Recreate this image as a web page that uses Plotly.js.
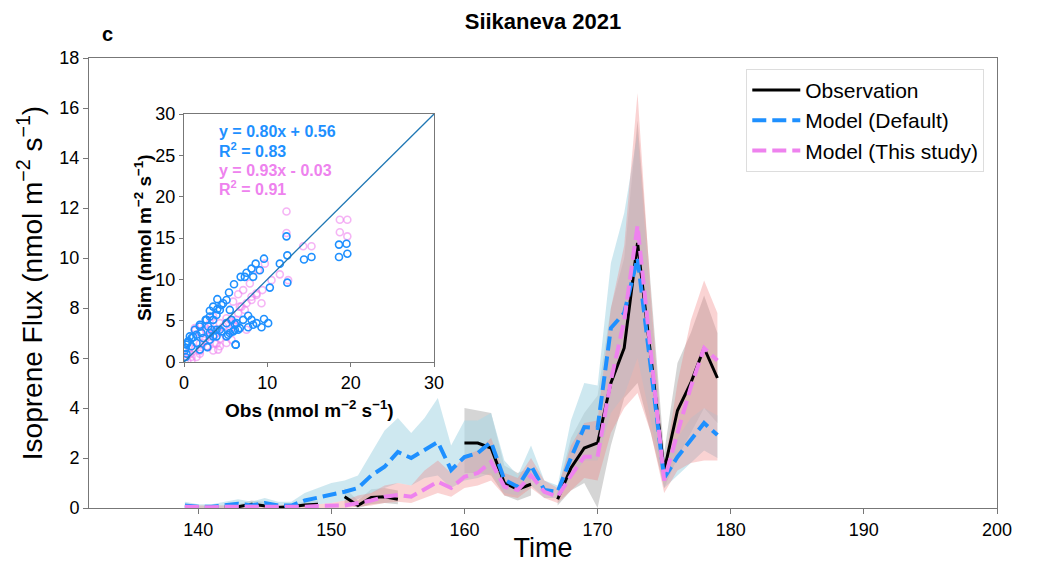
<!DOCTYPE html>
<html><head><meta charset="utf-8">
<script src="https://cdn.plot.ly/plotly-3.0.1.min.js"></script>
<style>body{margin:0;background:#fff}#chart{width:1038px;height:563px}</style>
</head><body><div id="chart"></div>
<script>
const days = [139,140,141,142,143,144,145,146,147,148,149,150,151,152,153,154,155,156,157,158,159,160,161,162,163,164,165,166,167,168,169,170,171,172,173,174,175,176,177,178,179];
const obs    = [null,null,null,0.05,0.05,0.15,0.1,0.02,0.05,0.12,0.15,null,0.45,0.1,0.42,0.45,0.35,null,null,null,null,2.6,2.6,2.4,1.0,0.75,0.95,null,0.35,1.6,2.4,2.6,5.0,6.4,10.6,6.0,1.5,3.9,5.0,6.4,5.2];
const obsLo  = [null,null,null,0,0,0.05,0.02,0,0,0.03,0.05,null,0.2,0.0,0.15,0.2,0.15,null,null,null,null,1.4,1.4,1.3,0.5,0.3,0.5,null,0.1,0.7,1.0,0.0,2.5,4.4,5.0,3.0,0.8,2.0,3.0,4.0,3.4];
const obsHi  = [null,null,null,0.15,0.15,0.3,0.25,0.1,0.15,0.25,0.3,null,0.8,0.3,0.75,0.8,0.7,null,null,null,null,4.0,3.9,3.8,1.7,1.4,1.6,null,0.7,2.8,3.8,4.5,8.0,10.0,15.5,9.0,2.2,5.8,7.0,8.5,7.0];
const dflt   = [0.1,0.05,0.05,0.1,0.17,0.1,0.2,0.1,0.1,0.3,0.42,0.5,0.65,0.8,1.3,1.65,2.24,2.0,2.3,2.64,1.52,2.04,2.2,2.64,1.12,0.85,1.7,0.72,0.65,2.0,3.24,3.2,7.2,7.8,10.0,5.6,1.2,2.04,2.72,3.4,2.92];
const dfltLo = [0,0,0,0,0.05,0,0.05,0,0,0.1,0.15,0.2,0.3,0.35,0.6,0.8,1.0,0.9,1.2,1.3,0.8,1.1,1.2,1.4,0.6,0.5,0.9,0.4,0.4,1.2,1.9,1.9,3.8,4.5,6.0,3.5,0.8,1.3,1.8,2.3,2.0];
const dfltHi = [0.25,0.15,0.15,0.25,0.35,0.25,0.4,0.25,0.25,0.6,0.8,1.0,1.1,1.3,2.2,3.1,3.6,3.0,3.6,4.4,2.5,3.5,3.5,3.8,1.9,1.3,2.5,1.1,0.9,3.5,5.0,4.9,9.8,11.8,15.0,8.0,1.7,2.8,3.6,4.0,3.7];
const study   = [0.05,0.03,0.03,0.05,0.05,0.05,0.05,0.03,0.05,0.05,0.08,0.1,0.1,0.2,0.3,0.45,0.52,0.45,0.75,1.05,0.8,1.25,1.4,1.85,0.85,0.72,1.3,0.65,0.45,1.3,2.05,2.05,5.1,7.5,11.3,6.2,1.1,3.0,4.84,6.4,5.9];
const studyLo = [0,0,0,0,0,0,0,0,0,0,0,0,0,0.05,0.1,0.2,0.25,0.2,0.4,0.6,0.45,0.8,0.9,1.1,0.5,0.4,0.8,0.4,0.2,0.7,1.2,1.1,3.0,4.0,4.6,3.0,0.6,1.5,1.8,1.9,1.9];
const studyHi = [0.1,0.1,0.1,0.1,0.12,0.12,0.12,0.1,0.12,0.12,0.15,0.2,0.3,0.5,0.6,0.9,1.0,0.9,1.5,1.9,1.4,2.1,2.3,2.8,1.4,1.2,2.0,1.1,0.8,2.5,3.4,3.5,8.0,10.5,16.6,8.5,1.6,5.0,7.5,9.1,7.8];

// inset scatter (obs vs sim)
const scObsD = [9.6,8.6,8.1,7.5,6.8,7.3,6.0,5.4,4.7,4.0,3.5,3.1,2.6,1.9,1.3,0.7,0.4,0.2,0.3,5.1,5.7,6.1,6.2,7.1,7.7,8.1,8.7,9.3,9.6,10.1,7.7,8.3,10.3,11.5,12.3,12.4,12.4,14.4,15.3,18.6,19.5,18.6,19.6,5.3,3.9,3.1,2.3,1.5,0.9,1.9,2.8,3.5,4.5,6.7,6.3,5.5,8.3,9.1,4.0,3.1,
                0.3,0.9,2.1,2.9,3.5,4.3,4.5,5.1,3.9,2.7,1.9,1.5,3.3,4.3,5.1,5.9,6.2,5.5,6.5,6.1,3.9,3.1,0.1,0.5,0.2,1.1];
const scSimD = [12.5,11.9,11.3,10.8,10.3,10.3,9.4,8.4,7.1,7.6,6.7,6.2,5.1,4.5,3.9,3.1,2.3,1.7,1.0,4.7,5.1,3.9,2.1,5.1,5.6,5.1,4.7,4.2,5.2,4.7,4.2,4.5,9.0,11.9,15.2,12.9,9.6,12.4,12.7,14.2,14.3,12.7,13.1,3.3,3.9,3.5,2.9,2.3,1.9,1.5,1.8,3.1,3.7,4.1,4.7,6.3,10.3,11.1,6.4,5.5,
                2.1,2.9,3.5,4.3,5.1,6.3,6.9,7.5,5.7,5.1,4.3,3.3,3.9,3.9,3.1,3.7,2.1,3.5,3.9,4.6,3.1,2.7,1.4,2.5,0.6,3.0];
const scObsS = [12.3,12.3,18.7,19.6,18.7,19.6,14.3,15.3,12.5,11.5,10.5,9.7,8.9,9.4,8.7,9.3,7.9,7.1,6.5,5.9,6.7,7.3,7.5,5.9,5.1,4.3,3.7,3.1,3.7,4.1,2.7,1.9,1.5,0.9,0.4,1.3,1.9,2.5,3.1,3.5,5.1,5.7,0.5,0.7,2.3,8.1,
                0.1,0.7,1.3,1.3,1.9,2.5,2.9,3.5,3.9,4.3,4.1,4.7,5.1,5.7,6.3,6.5,6.9,7.5,8.1,8.7,2.1,2.7,3.1,3.7,4.3,5.1,5.5,1.9,0.9];
const scSimS = [18.2,15.6,17.2,17.2,15.7,15.2,14.0,14.0,9.9,10.6,9.9,11.9,11.1,8.7,8.3,7.1,9.5,8.7,8.2,7.3,6.7,6.3,3.9,4.7,5.3,4.7,3.9,3.1,2.3,1.5,1.9,1.3,0.6,0.6,0.2,4.1,3.5,4.3,4.7,5.5,3.1,2.7,1.0,1.7,2.3,7.9,
                0.6,1.0,1.6,3.8,2.2,2.6,1.8,1.4,2.2,2.8,3.8,4.3,4.7,4.9,5.1,5.9,6.7,7.1,7.5,8.1,4.5,3.8,3.3,3.3,1.9,2.3,3.8,1.0,0.2];
const oneToOne = [0,30];
const xTicks = [140,150,160,170,180,190,200];

const FONT = '"Liberation Sans", Arial, Helvetica, sans-serif';
const BLUE = '#1e90ff', PINK = '#ee82ee';

function bandTraces(lo, hi, color) {
  const out = [];
  let seg = [];
  const flush = () => {
    if (seg.length > 1) {
      const xs = seg.map(i => days[i]).concat(seg.slice().reverse().map(i => days[i]));
      const ys = seg.map(i => hi[i]).concat(seg.slice().reverse().map(i => lo[i]));
      out.push({x: xs, y: ys, type: 'scatter', mode: 'lines', fill: 'toself',
        fillcolor: color, line: {width: 0}, hoverinfo: 'skip', showlegend: false, xaxis: 'x', yaxis: 'y'});
    }
    seg = [];
  };
  for (let i = 0; i < days.length; i++) {
    if (lo[i] === null || hi[i] === null) flush(); else seg.push(i);
  }
  flush();
  return out;
}

const traces = [].concat(
  bandTraces(obsLo, obsHi, 'rgba(128,128,128,0.33)'),
  bandTraces(dfltLo, dfltHi, 'rgba(173,216,230,0.6)'),
  bandTraces(studyLo, studyHi, 'rgba(240,128,128,0.35)'),
  [
    {x: days, y: obs, type: 'scatter', mode: 'lines', name: 'Observation',
     line: {color: 'black', width: 3}, connectgaps: false, xaxis: 'x', yaxis: 'y'},
    {x: days, y: dflt, type: 'scatter', mode: 'lines', name: 'Model (Default)',
     line: {color: BLUE, width: 4, dash: '14px,6px'}, xaxis: 'x', yaxis: 'y'},
    {x: days, y: study, type: 'scatter', mode: 'lines', name: 'Model (This study)',
     line: {color: PINK, width: 4, dash: '14px,6px'}, xaxis: 'x', yaxis: 'y'},
    {x: scObsS, y: scSimS, type: 'scatter', mode: 'markers', showlegend: false,
     marker: {symbol: 'circle-open', size: 7, color: PINK, opacity: 0.6, line: {width: 1.6, color: PINK}},
     xaxis: 'x2', yaxis: 'y2'},
    {x: scObsD, y: scSimD, type: 'scatter', mode: 'markers', showlegend: false,
     marker: {symbol: 'circle-open', size: 7, color: BLUE, line: {width: 1.6, color: BLUE}},
     xaxis: 'x2', yaxis: 'y2'},
    {x: oneToOne, y: oneToOne, type: 'scatter', mode: 'lines', showlegend: false,
     line: {color: '#1f77b4', width: 1.3}, xaxis: 'x2', yaxis: 'y2'}
  ]
);

const unit = ' (nmol m<sup>−2</sup> s<sup>−1</sup>)';
const axBase = {showline: true, mirror: true, linecolor: '#777', linewidth: 1, ticks: 'outside',
  ticklen: 5, tickcolor: '#777', showgrid: false, zeroline: false};

const layout = {
  width: 1038, height: 563,
  margin: {l: 89, r: 41, t: 58, b: 55},
  paper_bgcolor: 'white', plot_bgcolor: 'white',
  font: {family: FONT, color: 'black'},
  title: {text: '<b>Siikaneva 2021</b>', font: {size: 22, family: FONT}, x: 0.5, xref: 'paper',
          y: 1 - 21/563, yref: 'container', yanchor: 'middle'},
  xaxis: Object.assign({}, axBase, {range: [131.8, 200], tickvals: xTicks, tickfont: {size: 18},
          title: {text: 'Time', font: {size: 27}, standoff: 4}}),
  yaxis: Object.assign({}, axBase, {range: [0, 18], dtick: 2, tickfont: {size: 18},
          title: {text: 'Isoprene Flux' + unit, font: {size: 28}, standoff: 8}}),
  xaxis2: Object.assign({}, axBase, {domain: [95/908, 345/908], anchor: 'y2', range: [0, 30], dtick: 10,
          ticklen: 4, tickfont: {size: 18}}),
  yaxis2: Object.assign({}, axBase, {domain: [146/450, 394/450], anchor: 'x2', range: [0, 30], dtick: 5,
          ticklen: 4, tickfont: {size: 18}}),
  legend: {x: 0.986, y: 0.976, xanchor: 'right', yanchor: 'top', bgcolor: 'white',
           bordercolor: '#ddd', borderwidth: 1, font: {size: 21, family: FONT}, itemwidth: 48,
           tracegroupgap: 0},
  annotations: [
    {text: '<b>c</b>', xref: 'paper', yref: 'paper', x: 18/908, y: (508-34)/450, showarrow: false,
     font: {size: 20}, xanchor: 'center', yanchor: 'middle'},
    {text: '<b>Obs' + unit + '</b>', xref: 'paper', yref: 'paper', x: (309-89)/908, y: (508-395)/450,
     xanchor: 'center', yanchor: 'top', showarrow: false, font: {size: 19}},
    {text: '<b>Sim' + unit + '</b>', xref: 'paper', yref: 'paper', x: (143-89)/908, y: (508-238)/450,
     xanchor: 'center', yanchor: 'middle', showarrow: false, textangle: -90, font: {size: 19}},
    {text: '<b>y = 0.80x + 0.56</b>', xref: 'x2', yref: 'y2', x: 4.0, y: 27.9, xanchor: 'left', yanchor: 'middle', showarrow: false, font: {size: 16, color: BLUE}},
    {text: '<b>R<sup>2</sup> = 0.83</b>', xref: 'x2', yref: 'y2', x: 4.0, y: 25.6, xanchor: 'left', yanchor: 'middle', showarrow: false, font: {size: 16, color: BLUE}},
    {text: '<b>y = 0.93x - 0.03</b>', xref: 'x2', yref: 'y2', x: 4.0, y: 23.2, xanchor: 'left', yanchor: 'middle', showarrow: false, font: {size: 16, color: PINK}},
    {text: '<b>R<sup>2</sup> = 0.91</b>', xref: 'x2', yref: 'y2', x: 4.0, y: 21.0, xanchor: 'left', yanchor: 'middle', showarrow: false, font: {size: 16, color: PINK}}
  ]
};

Plotly.newPlot('chart', traces, layout, {displayModeBar: false, staticPlot: true});
</script></body></html>
